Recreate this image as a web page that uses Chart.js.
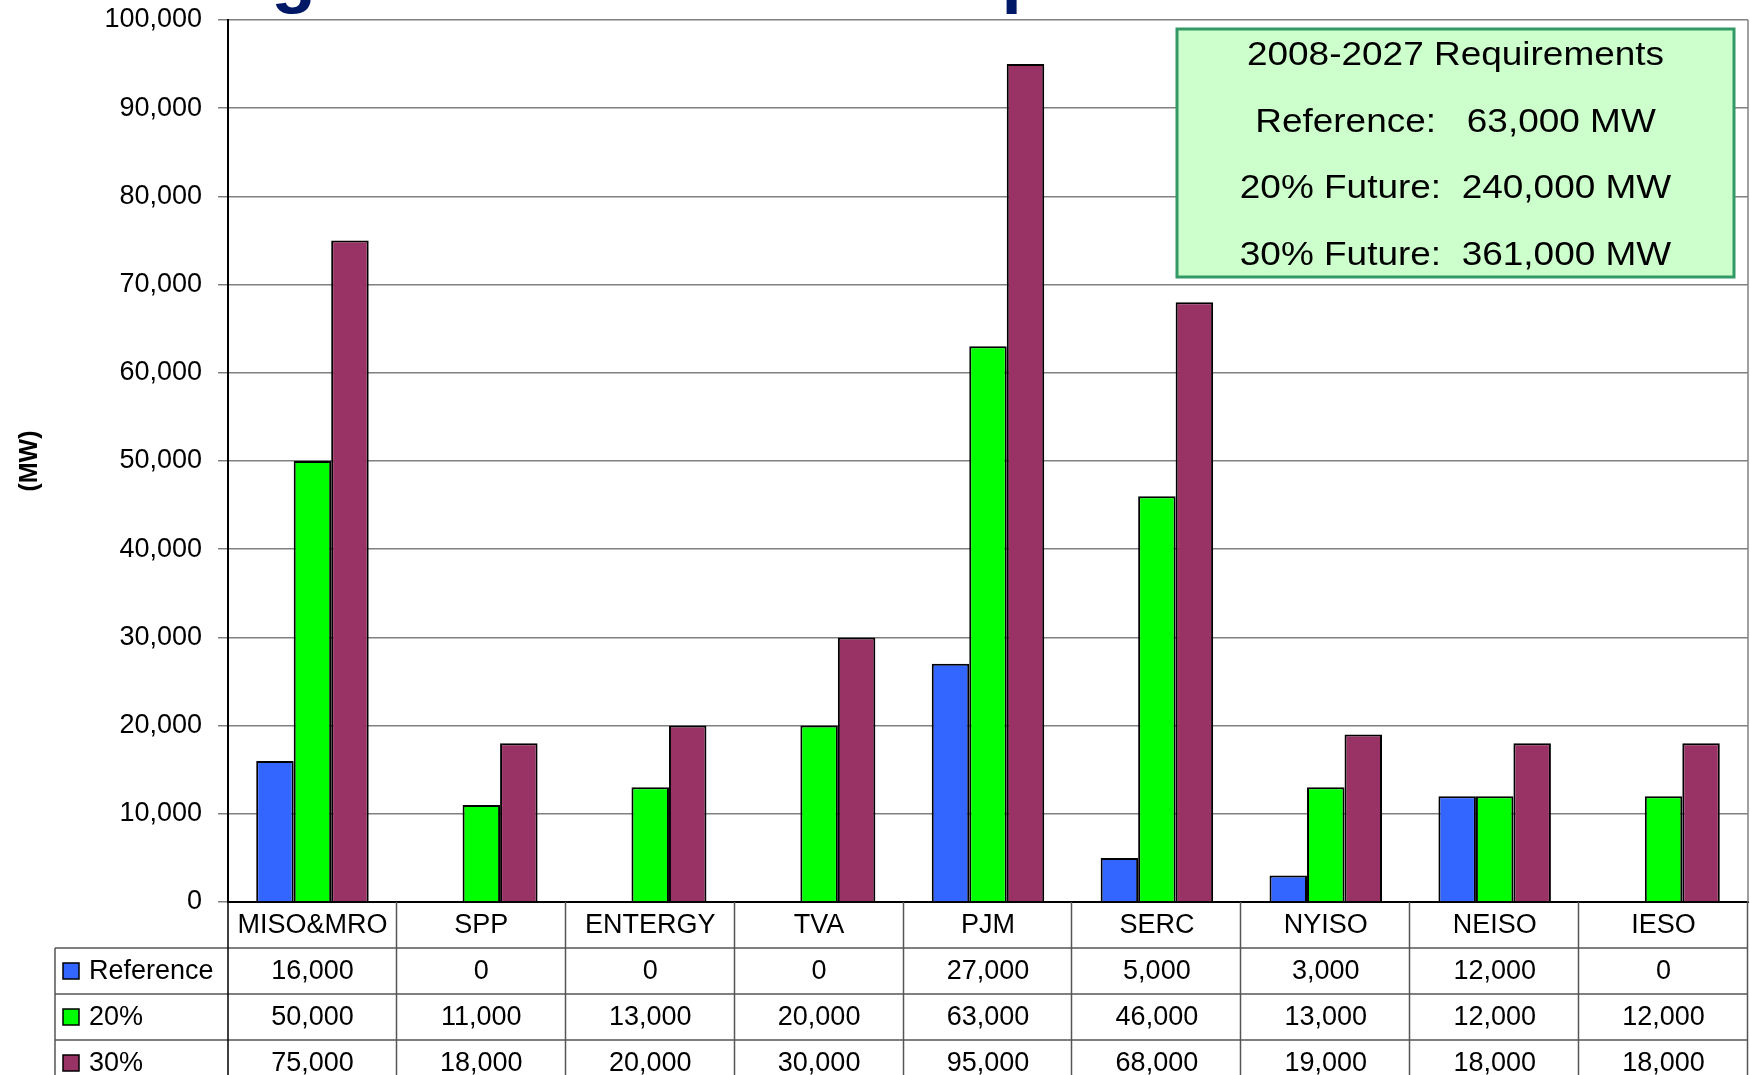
<!DOCTYPE html>
<html>
<head>
<meta charset="utf-8">
<script src="https://cdn.jsdelivr.net/npm/chart.js@4.4.1/dist/chart.umd.min.js"></script>
<style>
  body { margin: 0; background: #fff; }
  canvas { display: block; }
</style>
</head>
<body>
<canvas id="regionChart" width="1750" height="1075"></canvas>
<script>
// Data
const categories = ['MISO&MRO', 'SPP', 'ENTERGY', 'TVA', 'PJM', 'SERC', 'NYISO', 'NEISO', 'IESO'];
const referenceValues = [16000, 0, 0, 0, 27000, 5000, 3000, 12000, 0];
const future20Values = [50000, 11000, 13000, 20000, 63000, 46000, 13000, 12000, 12000];
const future30Values = [75000, 18000, 20000, 30000, 95000, 68000, 19000, 18000, 18000];
const seriesLabels = ['Reference', '20%', '30%'];
const seriesColors = ['#3366ff', '#00ff00', '#993366'];
const yMax = 100000;
const yStep = 10000;
const boxLines = ['2008-2027 Requirements', 'Reference:   63,000 MW', '20% Future:  240,000 MW', '30% Future:  361,000 MW'];
const titleText = 'Regional Generation Expansion';

const FONT = "'Liberation Sans', Arial, sans-serif";
const fmt = (v) => v.toLocaleString('en-US');

// Table under the chart: category names + values, drawn from the x scale
const dataTable = {
    id: 'dataTable',
    afterDraw(chart) {
        const ctx = chart.ctx;
        const x = chart.scales.x;
        const area = chart.chartArea;
        const rowH = 46;
        const tableLeft = 55;
        const bottom = chart.height;
        const catW = x.getPixelForValue(1) - x.getPixelForValue(0);
        const rows = [referenceValues, future20Values, future30Values];

        ctx.save();
        // plot right border
        ctx.strokeStyle = '#808080';
        ctx.lineWidth = 1.5;
        ctx.beginPath();
        ctx.moveTo(area.right, area.top);
        ctx.lineTo(area.right, area.bottom);
        ctx.stroke();

        // grid lines of the table
        ctx.strokeStyle = '#555';
        ctx.lineWidth = 1.5;
        ctx.beginPath();
        for (let i = 1; i <= categories.length; i++) {
            const xb = Math.round(x.getPixelForValue(i) - catW / 2) - 0.5;
            ctx.moveTo(xb, area.bottom);
            ctx.lineTo(xb, bottom);
        }
        for (let r = 1; r <= 3; r++) {
            const yr = area.bottom + r * rowH;
            ctx.moveTo(tableLeft, yr);
            ctx.lineTo(area.right, yr);
        }
        ctx.moveTo(tableLeft, area.bottom + rowH);
        ctx.lineTo(tableLeft, bottom);
        ctx.stroke();

        // axis line continues down through the table
        ctx.strokeStyle = '#000';
        ctx.beginPath();
        ctx.moveTo(area.left, area.bottom);
        ctx.lineTo(area.left, bottom);
        ctx.stroke();

        // texts
        ctx.fillStyle = '#000';
        ctx.font = '27px ' + FONT;
        ctx.textAlign = 'center';
        ctx.textBaseline = 'middle';
        categories.forEach((c, i) => {
            ctx.fillText(c, x.getPixelForValue(i), area.bottom + rowH / 2 + 1);
        });
        rows.forEach((vals, r) => {
            const yc = area.bottom + (r + 1) * rowH + rowH / 2 + 1;
            vals.forEach((v, i) => ctx.fillText(fmt(v), x.getPixelForValue(i), yc));
        });

        // series keys in the left column
        ctx.textAlign = 'left';
        seriesLabels.forEach((label, r) => {
            const yc = area.bottom + (r + 1) * rowH + rowH / 2;
            ctx.fillStyle = seriesColors[r];
            ctx.fillRect(63, yc - 8, 16, 16);
            ctx.strokeStyle = '#000';
            ctx.lineWidth = 1.5;
            ctx.strokeRect(63, yc - 8, 16, 16);
            ctx.fillStyle = '#000';
            ctx.fillText(label, 89, yc + 1);
        });
        ctx.restore();
    }
};

// Green totals box + clipped slide title
const notes = {
    id: 'notes',
    afterDraw(chart) {
        const ctx = chart.ctx;
        ctx.save();
        const bx = 1177, by = 29, bw = 557, bh = 248;
        ctx.fillStyle = '#ccffcc';
        ctx.fillRect(bx, by, bw, bh);
        ctx.strokeStyle = '#339966';
        ctx.lineWidth = 3;
        ctx.strokeRect(bx, by, bw, bh);
        ctx.fillStyle = '#000';
        ctx.font = '33px ' + FONT;
        ctx.textAlign = 'center';
        ctx.textBaseline = 'middle';
        boxLines.forEach((line, i) => {
            ctx.save();
            ctx.translate(bx + bw / 2, 56 + i * 66.5);
            ctx.scale(1.12, 1);
            ctx.fillText(line, 0, 0);
            ctx.restore();
        });

        // title sits above the picture, only the descenders show
        ctx.fillStyle = '#001966';
        ctx.font = 'bold 73px ' + FONT;
        ctx.textAlign = 'left';
        ctx.textBaseline = 'alphabetic';
        ctx.fillText(titleText, 178, -1);
        ctx.restore();
    }
};

const ctx = document.getElementById('regionChart').getContext('2d');
const regionChart = new Chart(ctx, {
    type: 'bar',
    data: {
        labels: categories,
        datasets: [referenceValues, future20Values, future30Values].map((vals, i) => ({
            label: seriesLabels[i],
            data: vals,
            backgroundColor: seriesColors[i],
            borderColor: '#000',
            borderWidth: 2,
            categoryPercentage: 0.666,
            barPercentage: 1.0,
        })),
    },
    options: {
        responsive: false,
        animation: false,
        layout: {
            padding: { top: 20, right: 2, bottom: 173, left: 0 },
        },
        plugins: {
            legend: { display: false },
            tooltip: { enabled: false },
        },
        scales: {
            x: {
                ticks: { display: false },
                grid: { display: false, drawTicks: false },
                border: { display: true, color: '#000', width: 2 },
                afterFit: (scale) => { scale.height = 0; },
            },
            y: {
                min: 0,
                max: yMax,
                ticks: {
                    stepSize: yStep,
                    padding: 16,
                    color: '#000',
                    font: { family: FONT, size: 27 },
                    callback: (v) => fmt(v),
                },
                grid: {
                    color: '#808080',
                    lineWidth: 1.5,
                    tickLength: 10,
                    tickColor: '#808080',
                },
                border: { display: true, color: '#000', width: 2 },
                title: {
                    display: true,
                    text: '(MW)',
                    color: '#000',
                    font: { family: FONT, size: 25, weight: 'bold' },
                    padding: { top: 15, bottom: 0 },
                },
                afterFit: (scale) => {
                    scale.width = 228;
                    scale.paddingTop = 0;
                    scale.paddingBottom = 0;
                },
            },
        },
    },
    plugins: [dataTable, notes],
});
</script>
</body>
</html>
